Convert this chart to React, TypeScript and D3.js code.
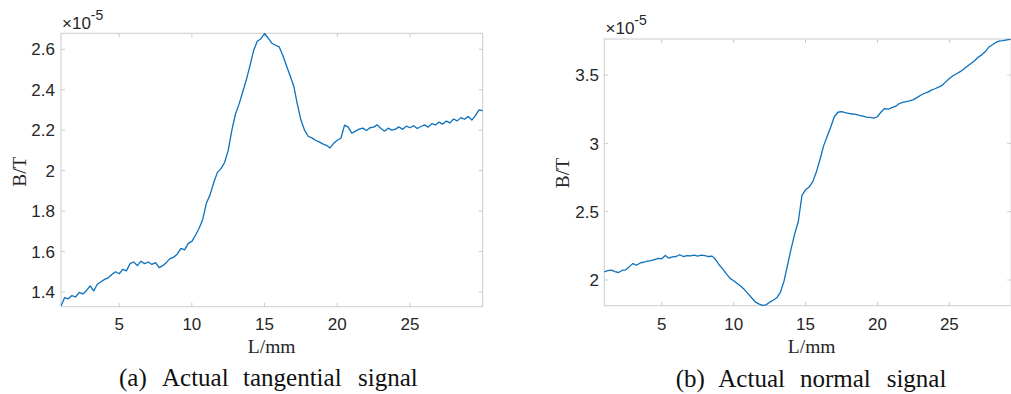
import React from "react";
import * as d3 from "d3";

// ---- Data ----
const tangentialL = [
  1.0, 1.25, 1.5, 1.75, 2.0, 2.25, 2.5, 2.75, 3.0, 3.25, 3.5, 3.75, 4.0, 4.25, 4.5, 4.75,
  5.0, 5.25, 5.5, 5.75, 6.0, 6.25, 6.5, 6.75, 7.0, 7.25, 7.5, 7.75, 8.0, 8.25, 8.5, 8.75,
  9.0, 9.25, 9.5, 9.75, 10.0, 10.25, 10.5, 10.75, 11.0, 11.25, 11.5, 11.75, 12.0, 12.25, 12.5, 12.75,
  13.0, 13.25, 13.5, 13.75, 14.0, 14.25, 14.5, 14.75, 15.0, 15.25, 15.5, 15.75, 16.0, 16.25, 16.5, 16.75,
  17.0, 17.25, 17.5, 17.75, 18.0, 18.25, 18.5, 18.75, 19.0, 19.25, 19.5, 19.75, 20.0, 20.25, 20.5, 20.75,
  21.0, 21.25, 21.5, 21.75, 22.0, 22.25, 22.5, 22.75, 23.0, 23.25, 23.5, 23.75, 24.0, 24.25, 24.5, 24.75,
  25.0, 25.25, 25.5, 25.75, 26.0, 26.25, 26.5, 26.75, 27.0, 27.25, 27.5, 27.75, 28.0, 28.25, 28.5, 28.75,
  29.0, 29.25, 29.5, 29.75, 30.0,
];
const tangentialB = [
  1.330, 1.372, 1.366, 1.382, 1.375, 1.398, 1.390, 1.406, 1.430, 1.405, 1.438, 1.450, 1.462, 1.470, 1.486, 1.500,
  1.490, 1.512, 1.504, 1.540, 1.548, 1.530, 1.552, 1.540, 1.548, 1.536, 1.545, 1.520, 1.530, 1.546, 1.565, 1.572,
  1.588, 1.615, 1.608, 1.640, 1.650, 1.680, 1.715, 1.760, 1.840, 1.880, 1.940, 1.990, 2.010, 2.040, 2.100, 2.200,
  2.280, 2.330, 2.390, 2.450, 2.520, 2.595, 2.640, 2.652, 2.678, 2.655, 2.630, 2.620, 2.612, 2.570, 2.520, 2.470,
  2.420, 2.330, 2.250, 2.200, 2.170, 2.162, 2.150, 2.142, 2.132, 2.125, 2.112, 2.135, 2.150, 2.160, 2.225, 2.215,
  2.185, 2.195, 2.205, 2.210, 2.198, 2.212, 2.215, 2.226, 2.208, 2.195, 2.210, 2.200, 2.205, 2.216, 2.204, 2.220,
  2.212, 2.222, 2.208, 2.218, 2.226, 2.215, 2.232, 2.226, 2.240, 2.230, 2.245, 2.236, 2.255, 2.246, 2.262, 2.254,
  2.268, 2.250, 2.272, 2.300, 2.296,
];

const normalL = [
  1.0, 1.25, 1.5, 1.75, 2.0, 2.25, 2.5, 2.75, 3.0, 3.25, 3.5, 3.75, 4.0, 4.25, 4.5, 4.75,
  5.0, 5.25, 5.5, 5.75, 6.0, 6.25, 6.5, 6.75, 7.0, 7.25, 7.5, 7.75, 8.0, 8.25, 8.5, 8.75,
  9.0, 9.25, 9.5, 9.75, 10.0, 10.25, 10.5, 10.75, 11.0, 11.25, 11.5, 11.75, 12.0, 12.25, 12.5, 12.75,
  13.0, 13.25, 13.5, 13.75, 14.0, 14.25, 14.5, 14.75, 15.0, 15.25, 15.5, 15.75, 16.0, 16.25, 16.5, 16.75,
  17.0, 17.25, 17.5, 17.75, 18.0, 18.25, 18.5, 18.75, 19.0, 19.25, 19.5, 19.75, 20.0, 20.25, 20.5, 20.75,
  21.0, 21.25, 21.5, 21.75, 22.0, 22.25, 22.5, 22.75, 23.0, 23.25, 23.5, 23.75, 24.0, 24.25, 24.5, 24.75,
  25.0, 25.25, 25.5, 25.75, 26.0, 26.25, 26.5, 26.75, 27.0, 27.25, 27.5, 27.75, 28.0, 28.25, 28.5, 28.75,
  29.0, 29.25,
];
const normalB = [
  2.060, 2.068, 2.072, 2.062, 2.055, 2.070, 2.075, 2.098, 2.120, 2.108, 2.125, 2.130, 2.138, 2.142, 2.150, 2.158,
  2.155, 2.180, 2.160, 2.170, 2.172, 2.185, 2.172, 2.178, 2.176, 2.182, 2.175, 2.182, 2.178, 2.172, 2.175, 2.150,
  2.110, 2.080, 2.045, 2.012, 1.995, 1.975, 1.955, 1.930, 1.900, 1.870, 1.840, 1.825, 1.815, 1.818, 1.838, 1.852,
  1.870, 1.910, 1.990, 2.110, 2.230, 2.340, 2.430, 2.620, 2.660, 2.680, 2.720, 2.790, 2.880, 2.980, 3.050, 3.120,
  3.195, 3.228, 3.232, 3.225, 3.220, 3.215, 3.212, 3.205, 3.200, 3.192, 3.190, 3.185, 3.195, 3.230, 3.255, 3.250,
  3.262, 3.270, 3.290, 3.300, 3.305, 3.312, 3.320, 3.335, 3.352, 3.365, 3.375, 3.390, 3.400, 3.412, 3.425, 3.450,
  3.475, 3.495, 3.510, 3.525, 3.545, 3.565, 3.585, 3.605, 3.630, 3.648, 3.672, 3.705, 3.722, 3.740, 3.750, 3.752,
  3.758, 3.762,
];

const xTicks = [5, 10, 15, 20, 25];
const xTickLabels = ["5", "10", "15", "20", "25"];
const tangentialYTicks = [1.4, 1.6, 1.8, 2.0, 2.2, 2.4, 2.6];
const tangentialYTickLabels = ["1.4", "1.6", "1.8", "2", "2.2", "2.4", "2.6"];
const normalYTicks = [2.0, 2.5, 3.0, 3.5];
const normalYTickLabels = ["2", "2.5", "3", "3.5"];

const xLabel = "L/mm";
const yLabel = "B/T";
const exponentLabel = "-5";
const captionA = ["(a)", "Actual", "tangential", "signal"];
const captionB = ["(b)", "Actual", "normal", "signal"];

const SANS = "'Liberation Sans', Arial, Helvetica, sans-serif";
const SERIF = "'Liberation Serif', 'Times New Roman', Times, serif";
const LINE_COLOR = "#0b70bd";
const BOX_COLOR = "#cccccc";
const TEXT_COLOR = "#262626";

type PanelProps = {
  id: string;
  xs: number[];
  ys: number[];
  xDomain: [number, number];
  xRange: [number, number];
  yDomain: [number, number];
  yRange: [number, number];
  yTicks: number[];
  yTickLabels: string[];
  yTickLabelX: number;
  yLabelPos: [number, number];
  xLabelPos: [number, number];
  expPos: [number, number];
  caption: string[];
  captionX: number[];
  captionY: number;
};

function Panel(p: PanelProps) {
  const x = d3.scaleLinear().domain(p.xDomain).range(p.xRange);
  const y = d3.scaleLinear().domain(p.yDomain).range(p.yRange);
  const pts: [number, number][] = p.xs.map((v, i) => [v, p.ys[i]]);
  const line = d3
    .line<[number, number]>()
    .x((d) => x(d[0]))
    .y((d) => y(d[1]));
  const [x0, x1] = p.xRange;
  const [yb, yt] = p.yRange;
  const tk = 4;
  return (
    <g>
      <defs>
        <clipPath id={`clip-${p.id}`}>
          <rect x={x0} y={yt - 1} width={x1 - x0} height={yb - yt + 2} />
        </clipPath>
      </defs>
      <rect x={x0} y={yt} width={x1 - x0} height={yb - yt} fill="#ffffff" stroke={BOX_COLOR} strokeWidth={1} />
      {xTicks.map((t) => (
        <g key={`xt${t}`}>
          <line x1={x(t)} x2={x(t)} y1={yb} y2={yb - tk} stroke={BOX_COLOR} />
          <line x1={x(t)} x2={x(t)} y1={yt} y2={yt + tk} stroke={BOX_COLOR} />
        </g>
      ))}
      {p.yTicks.map((t) => (
        <g key={`yt${t}`}>
          <line x1={x0} x2={x0 + tk} y1={y(t)} y2={y(t)} stroke={BOX_COLOR} />
          <line x1={x1} x2={x1 - tk} y1={y(t)} y2={y(t)} stroke={BOX_COLOR} />
        </g>
      ))}
      <path
        d={line(pts) || ""}
        fill="none"
        stroke={LINE_COLOR}
        strokeWidth={1.3}
        strokeLinejoin="round"
        clipPath={`url(#clip-${p.id})`}
      />
      {xTicks.map((t, i) => (
        <text
          key={`xl${t}`}
          x={x(t)}
          y={330}
          textAnchor="middle"
          fontFamily={SANS}
          fontSize={17}
          fill={TEXT_COLOR}
        >
          {xTickLabels[i]}
        </text>
      ))}
      {p.yTicks.map((t, i) => (
        <text
          key={`yl${t}`}
          x={p.yTickLabelX}
          y={y(t)}
          dy="0.36em"
          textAnchor="end"
          fontFamily={SANS}
          fontSize={17}
          fill={TEXT_COLOR}
        >
          {p.yTickLabels[i]}
        </text>
      ))}
      <text x={p.expPos[0]} y={p.expPos[1]} fontFamily={SANS} fontSize={17} fill={TEXT_COLOR}>
        <tspan fontSize={17}>×</tspan>
        <tspan>10</tspan>
        <tspan fontSize={14} dy={-9}>
          {exponentLabel}
        </tspan>
      </text>
      <text
        x={p.xLabelPos[0]}
        y={p.xLabelPos[1]}
        textAnchor="middle"
        fontFamily={SERIF}
        fontSize={19.5}
        fill={TEXT_COLOR}
      >
        {xLabel}
      </text>
      <text
        transform={`translate(${p.yLabelPos[0]},${p.yLabelPos[1]}) rotate(-90)`}
        textAnchor="middle"
        dy="0.35em"
        fontFamily={SERIF}
        fontSize={19.5}
        fill={TEXT_COLOR}
      >
        {yLabel}
      </text>
      <text y={p.captionY} fontFamily={SERIF} fontSize={25} fill="#111">
        {p.caption.map((w, i) => (
          <tspan key={`c${i}`} x={p.captionX[i]}>
            {w}
          </tspan>
        ))}
      </text>
    </g>
  );
}

export default function App() {
  return (
    <svg
      width={1011}
      height={394}
      viewBox="0 0 1011 394"
      style={{ position: "absolute", left: 0, top: 0, background: "#ffffff" }}
    >
      <rect x={0} y={0} width={1011} height={394} fill="#ffffff" />
      <Panel
        id="a"
        xs={tangentialL}
        ys={tangentialB}
        xDomain={[1, 30]}
        xRange={[61, 482.7]}
        yDomain={[1.327, 2.679]}
        yRange={[306.7, 33.3]}
        yTicks={tangentialYTicks}
        yTickLabels={tangentialYTickLabels}
        yTickLabelX={55}
        yLabelPos={[19.5, 171.7]}
        xLabelPos={[271.7, 353]}
        expPos={[62, 29]}
        caption={captionA}
        captionX={[119, 162, 243, 358]}
        captionY={386}
      />
      <Panel
        id="b"
        xs={normalL}
        ys={normalB}
        xDomain={[1, 29.3]}
        xRange={[604.2, 1011.2]}
        yDomain={[1.812, 3.764]}
        yRange={[305.7, 39]}
        yTicks={normalYTicks}
        yTickLabels={normalYTickLabels}
        yTickLabelX={599}
        yLabelPos={[562.3, 173]}
        xLabelPos={[811.7, 353]}
        expPos={[605.5, 33.5]}
        caption={captionB}
        captionX={[675.7, 718.3, 800, 886.7]}
        captionY={386.5}
      />
    </svg>
  );
}
